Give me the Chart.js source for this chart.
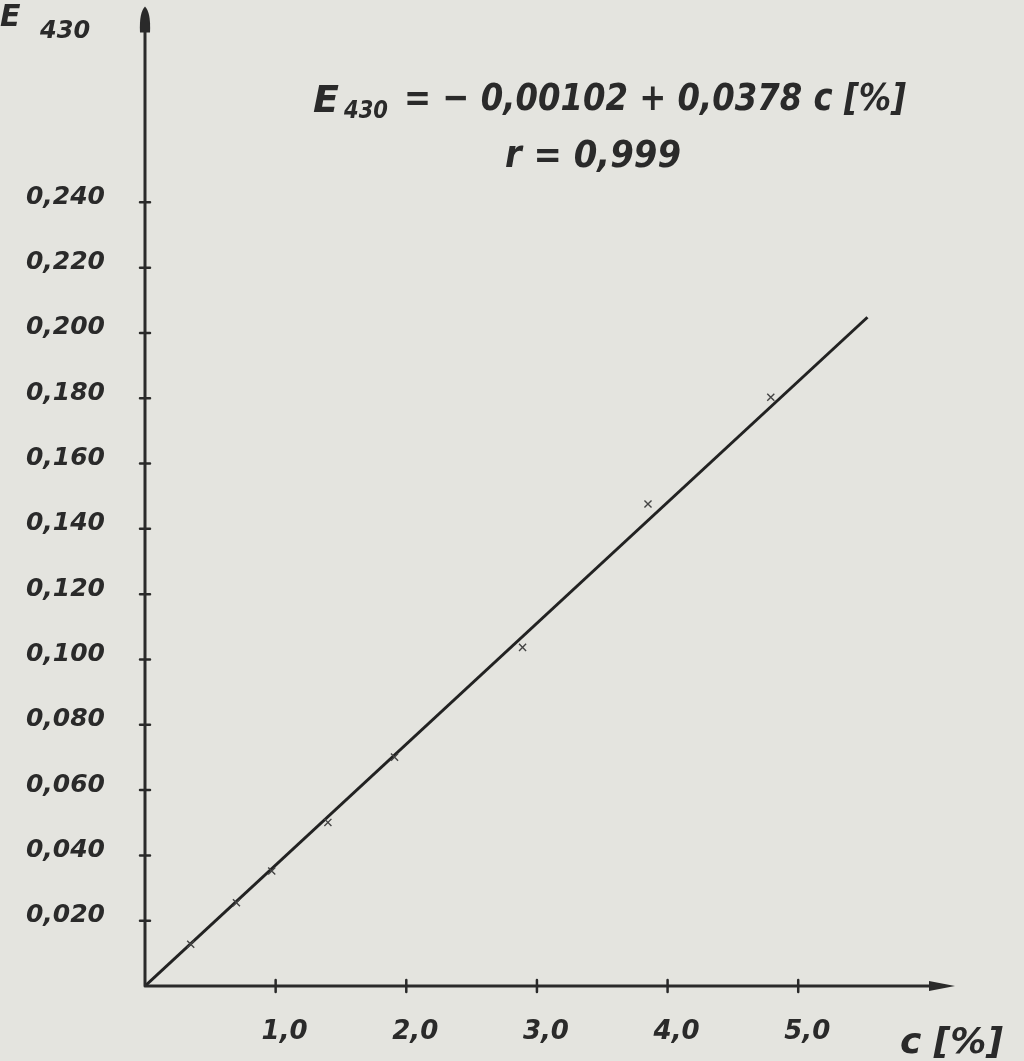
<!DOCTYPE html>
<html>
<head>
<meta charset="utf-8">
<script src="https://cdn.jsdelivr.net/npm/chart.js@4.4.1/dist/chart.umd.min.js"></script>
<style>
  html, body { margin: 0; padding: 0; background: #e4e4df; }
  #wrap { width: 1024px; height: 1061px; }
</style>
</head>
<body>
<div id="wrap"><canvas id="calibChart" width="1024" height="1061"></canvas></div>
<script>
// measured points, c [%] vs E430
const concentration = [0.35, 0.70, 0.97, 1.40, 1.91, 2.89, 3.85, 4.79];
const absorbance = [0.0128, 0.0255, 0.0352, 0.0501, 0.0701, 0.1037, 0.1476, 0.1803];

// regression line as drawn (ends)
const fitC = [0, 5.53];
const fitE = [0.0, 0.2048];

const xTickValues = [1, 2, 3, 4, 5];
const yTickValues = [0.02, 0.04, 0.06, 0.08, 0.10, 0.12, 0.14, 0.16, 0.18, 0.20, 0.22, 0.24];

const ink = "#2a2a2a";
const family = "'DejaVu Sans', sans-serif";

const inkPlugin = {
  id: "ink",
  afterDraw(chart) {
    const { ctx, chartArea: a, scales: { x, y } } = chart;
    ctx.save();
    ctx.strokeStyle = ink;
    ctx.fillStyle = ink;
    ctx.lineCap = "round";

    // axes
    ctx.lineWidth = 3;
    ctx.beginPath();
    ctx.moveTo(a.left, a.bottom);
    ctx.lineTo(a.left, a.top + 12);
    ctx.moveTo(a.left, a.bottom);
    ctx.lineTo(a.right - 12, a.bottom);
    ctx.stroke();

    // arrow heads
    ctx.beginPath();
    ctx.moveTo(a.left, a.top);
    ctx.quadraticCurveTo(a.left + 6, a.top + 6, a.left + 5, a.top + 26);
    ctx.lineTo(a.left - 5, a.top + 26);
    ctx.quadraticCurveTo(a.left - 6, a.top + 6, a.left, a.top);
    ctx.fill();
    ctx.beginPath();
    ctx.moveTo(a.right, a.bottom);
    ctx.lineTo(a.right - 26, a.bottom - 5);
    ctx.lineTo(a.right - 26, a.bottom + 5);
    ctx.closePath();
    ctx.fill();

    // tick marks crossing the axes
    ctx.lineWidth = 2.5;
    ctx.beginPath();
    yTickValues.forEach(v => {
      const py = y.getPixelForValue(v);
      ctx.moveTo(a.left - 5, py);
      ctx.lineTo(a.left + 5, py);
    });
    xTickValues.forEach(v => {
      const px = x.getPixelForValue(v);
      ctx.moveTo(px, a.bottom - 6);
      ctx.lineTo(px, a.bottom + 6);
    });
    ctx.stroke();

    // axis titles
    ctx.textBaseline = "alphabetic";
    ctx.textAlign = "left";
    ctx.font = "italic bold 30px " + family;
    ctx.fillText("E", 0, 26);
    ctx.font = "italic bold 24px " + family;
    ctx.fillText("430", 40, 38, 54);
    ctx.font = "italic bold 36px " + family;
    ctx.fillText("c [%]", 900, 1053, 116);

    // equation
    ctx.font = "italic bold 38px " + family;
    ctx.fillText("E", 313, 112);
    ctx.font = "italic bold 24px " + family;
    ctx.fillText("430", 344, 118, 44);
    ctx.font = "italic bold 38px " + family;
    ctx.fillText("= \u2212 0,00102 + 0,0378 c [%]", 404, 110, 502);
    ctx.fillText("r = 0,999", 505, 167, 176);

    ctx.restore();
  }
};

new Chart(document.getElementById("calibChart"), {
  type: "scatter",
  data: {
    datasets: [
      {
        data: concentration.map((c, i) => ({ x: c, y: absorbance[i] })),
        pointStyle: "crossRot",
        pointRadius: 5,
        borderColor: "#444",
        borderWidth: 1.4,
      },
      {
        data: fitC.map((c, i) => ({ x: c, y: fitE[i] })),
        showLine: true,
        pointRadius: 0,
        borderColor: "#222",
        borderWidth: 3,
      },
    ],
  },
  options: {
    responsive: false,
    animation: false,
    layout: { padding: { left: 0, top: 5, right: 69, bottom: 0 } },
    plugins: { legend: { display: false }, tooltip: { enabled: false } },
    scales: {
      x: {
        type: "linear",
        min: 0,
        max: 6.2,
        afterFit: s => {
          s.height = 75;
          s.paddingLeft = 0;
          s.paddingRight = 0;
        },
        afterBuildTicks: s => { s.ticks = xTickValues.map(v => ({ value: v })); },
        border: { display: false },
        grid: { display: false, drawTicks: false },
        ticks: {
          padding: 31,
          labelOffset: 9,
          color: ink,
          font: { family: family, size: 26, style: "italic", weight: "bold" },
          callback: v => v.toFixed(1).replace(".", ","),
        },
      },
      y: {
        type: "linear",
        min: 0,
        max: 0.3,
        afterFit: s => {
          s.width = 145;
          s.paddingTop = 0;
          s.paddingBottom = 0;
        },
        afterBuildTicks: s => { s.ticks = yTickValues.map(v => ({ value: v })); },
        border: { display: false },
        grid: { display: false, drawTicks: false },
        ticks: {
          padding: 40,
          labelOffset: -5,
          color: ink,
          font: { family: family, size: 25, style: "italic", weight: "bold" },
          callback: v => v.toFixed(3).replace(".", ","),
        },
      },
    },
  },
  plugins: [inkPlugin],
});
</script>
</body>
</html>
